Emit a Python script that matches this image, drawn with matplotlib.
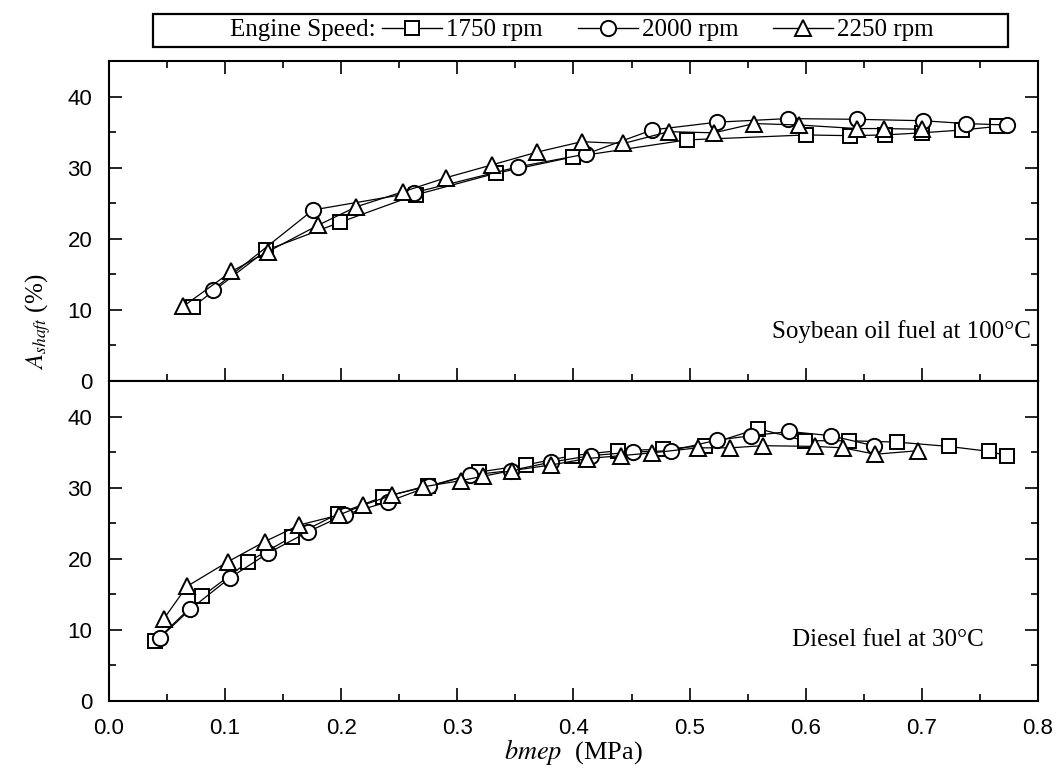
import matplotlib
matplotlib.use('Agg')
import matplotlib.pyplot as plt
from matplotlib.lines import Line2D
from matplotlib.patches import Rectangle
from matplotlib.ticker import MultipleLocator, FormatStrFormatter

# --- soybean oil at 100 C (top panel) ---
soy_x_1750 = [0.0725, 0.1356, 0.1987, 0.2647, 0.333, 0.3995, 0.4975, 0.600, 0.638, 0.668, 0.700, 0.735, 0.765]
soy_y_1750 = [10.45, 18.4, 22.3, 26.2, 29.2, 31.5, 33.9, 34.6, 34.5, 34.6, 34.9, 35.3, 35.8]
soy_x_2000 = [0.0892, 0.1757, 0.263, 0.352, 0.4105, 0.4677, 0.524, 0.5845, 0.644, 0.701, 0.738, 0.773]
soy_y_2000 = [12.8, 24.05, 26.5, 30.1, 31.9, 35.3, 36.4, 36.9, 36.8, 36.6, 36.2, 36.0]
soy_x_2250 = [0.064, 0.1055, 0.137, 0.180, 0.213, 0.253, 0.2905, 0.330, 0.369, 0.407, 0.443,
              0.482, 0.521, 0.5557, 0.594, 0.644, 0.6675, 0.700]
soy_y_2250 = [10.5, 15.4, 18.2, 21.9, 24.5, 26.6, 28.6, 30.4, 32.2, 33.65, 33.4,
              35.06, 34.9, 36.2, 36.0, 35.5, 35.5, 35.4]

# --- diesel at 30 C (bottom panel) ---
die_x_1750 = [0.040, 0.080, 0.120, 0.158, 0.197, 0.236, 0.275, 0.319, 0.359, 0.399, 0.438,
              0.477, 0.513, 0.559, 0.599, 0.637, 0.679, 0.723, 0.758, 0.773]
die_y_1750 = [8.4, 14.7, 19.6, 23.1, 26.3, 28.7, 30.2, 32.2, 33.2, 34.5, 35.2,
              35.4, 35.9, 38.3, 36.6, 36.6, 36.4, 35.8, 35.1, 34.5]
die_x_2000 = [0.044, 0.070, 0.104, 0.137, 0.1715, 0.203, 0.240, 0.276, 0.3105, 0.346, 0.381,
              0.415, 0.451, 0.484, 0.524, 0.553, 0.586, 0.622, 0.6585]
die_y_2000 = [8.9, 12.9, 17.3, 20.8, 23.8, 26.2, 28.0, 30.2, 31.75, 32.4, 33.6,
              34.5, 35.0, 35.2, 36.7, 37.3, 37.9, 37.3, 35.9]
die_x_2250 = [0.047, 0.067, 0.1026, 0.134, 0.164, 0.198, 0.219, 0.244, 0.270, 0.3034, 0.322,
              0.347, 0.381, 0.412, 0.441, 0.468, 0.507, 0.535, 0.563, 0.608, 0.632, 0.660, 0.697]
die_y_2250 = [11.5, 16.1, 19.6, 22.4, 24.75, 26.15, 27.55, 28.95, 30.1, 31.0, 31.6,
              32.4, 33.2, 34.1, 34.5, 34.9, 35.6, 35.6, 35.9, 35.8, 35.6, 34.7, 35.2]

speeds = ['1750 rpm', '2000 rpm', '2250 rpm']
SERIF = 'Liberation Serif'

plt.rcParams['font.family'] = ['Liberation Sans', 'DejaVu Sans']
plt.rcParams['mathtext.fontset'] = 'stix'

# marker style per speed
styles = [dict(marker='s', ms=10), dict(marker='o', ms=11), dict(marker='^', ms=12)]


def draw_series(ax, xs, ys, st):
    ax.plot(xs, ys, color='black', lw=0.9, mfc='white', mec='black', mew=1.4,
            clip_on=False, **st)


def style_axes(ax, top_ticks, bottom_labels):
    ax.set_xlim(0, 0.8)
    ax.set_ylim(0, 45)
    ax.xaxis.set_major_locator(MultipleLocator(0.1))
    ax.xaxis.set_minor_locator(MultipleLocator(0.05))
    ax.yaxis.set_major_locator(MultipleLocator(10))
    ax.yaxis.set_minor_locator(MultipleLocator(5))
    ax.tick_params(which='both', direction='in', top=top_ticks, bottom=True,
                   left=True, right=True, width=1.2)
    ax.tick_params(which='major', length=9.5, labelsize=16, pad=12)
    ax.tick_params(which='minor', length=5)
    ax.tick_params(axis='x', labelbottom=bottom_labels)
    for sp in ax.spines.values():
        sp.set_linewidth(1.5)


fig = plt.figure(figsize=(10.56, 7.75), dpi=100)
ax_top = fig.add_axes([0.1032, 0.5084, 0.8797, 0.4129])
ax_bot = fig.add_axes([0.1032, 0.0955, 0.8797, 0.4129])

for xs, ys, st in zip([soy_x_1750, soy_x_2000, soy_x_2250],
                      [soy_y_1750, soy_y_2000, soy_y_2250], styles):
    draw_series(ax_top, xs, ys, st)
for xs, ys, st in zip([die_x_1750, die_x_2000, die_x_2250],
                      [die_y_1750, die_y_2000, die_y_2250], styles):
    draw_series(ax_bot, xs, ys, st)

style_axes(ax_top, top_ticks=True, bottom_labels=False)
style_axes(ax_bot, top_ticks=False, bottom_labels=True)
ax_bot.xaxis.set_major_formatter(FormatStrFormatter('%.1f'))

ax_top.text(0.571, 7.0, 'Soybean oil fuel at 100°C', family=SERIF, fontsize=18,
            va='center', ha='left')
ax_bot.text(0.588, 8.6, 'Diesel fuel at 30°C', family=SERIF, fontsize=18,
            va='center', ha='left')

# axis labels
fig.text(0.036, 1 - 322 / 775, r'$A_{shaft}$ (%)', rotation=90, family=SERIF,
         fontsize=18, ha='center', va='center')
fig.text(0.543, 1 - 752 / 775, r'$bmep$  (MPa)', family=SERIF, fontsize=19,
         ha='center', va='center')

# legend box at top
fig.patches.append(Rectangle((153 / 1056, 1 - 47 / 775), (1008 - 153) / 1056, 33 / 775,
                             transform=fig.transFigure, fill=False, lw=1.6, ec='black'))
fig.text(230 / 1056, 1 - 30 / 775, 'Engine Speed:', family=SERIF, fontsize=18,
         ha='left', va='center')
handles = [Line2D([], [], color='black', lw=1.0, mfc='white', mec='black', mew=1.4, **st)
           for st in styles]
fig.legend(handles, speeds, loc='center left', bbox_to_anchor=(382 / 1056, 1 - 30 / 775),
           ncol=3, frameon=False, prop={'family': SERIF, 'size': 18}, handlelength=2.4,
           handletextpad=0.16, columnspacing=1.4, borderpad=0, borderaxespad=0,
           numpoints=1)

fig.savefig('out.png', dpi=100)
